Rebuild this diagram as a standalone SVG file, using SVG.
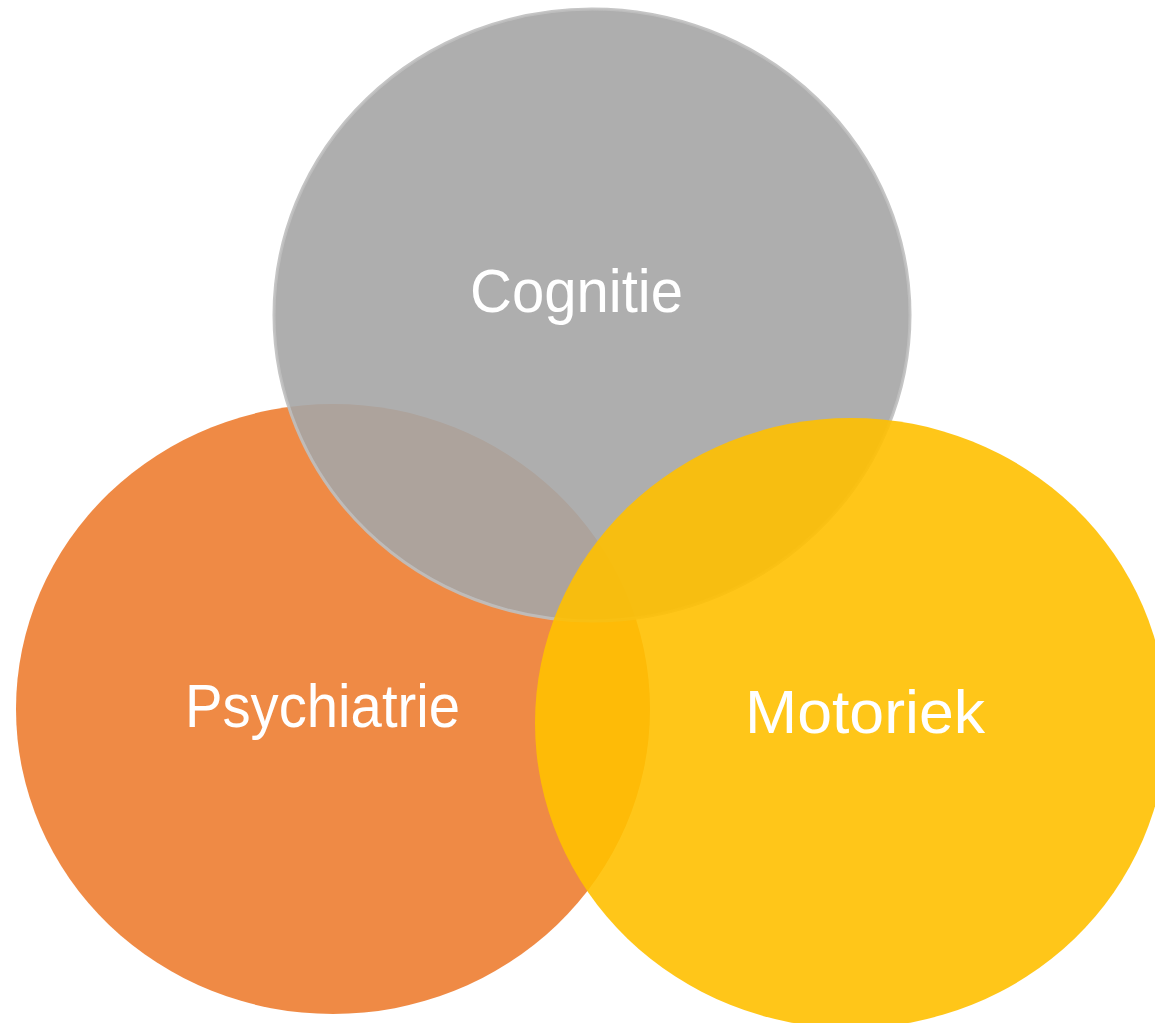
<svg xmlns="http://www.w3.org/2000/svg" width="1155" height="1023" viewBox="0 0 1155 1023">
  <style>
    .lbl { font-family: "Liberation Sans", Arial, sans-serif; font-size: 61px; fill: #FFFFFF; text-anchor: middle; }
  </style>
  <rect width="1155" height="1023" fill="#FFFFFF"/>
  <g id="psychiatrie">
    <ellipse cx="333" cy="709" rx="317" ry="305" fill="#ED7D31" fill-opacity="0.9"/>
    <text class="lbl" x="322.5" y="727" textLength="275" lengthAdjust="spacingAndGlyphs">Psychiatrie</text>
  </g>
  <g id="cognitie">
    <ellipse cx="592" cy="315" rx="318" ry="306" fill="#A5A5A5" fill-opacity="0.9" stroke="#BFBFBF" stroke-opacity="0.9" stroke-width="3"/>
    <text class="lbl" x="576.5" y="312" textLength="213" lengthAdjust="spacingAndGlyphs">Cognitie</text>
  </g>
  <g id="motoriek">
    <ellipse cx="851" cy="723" rx="316" ry="305" fill="#FFC000" fill-opacity="0.9"/>
    <text class="lbl" x="865" y="733" textLength="240" lengthAdjust="spacingAndGlyphs">Motoriek</text>
  </g>
  <g id="connectors"></g>
</svg>
